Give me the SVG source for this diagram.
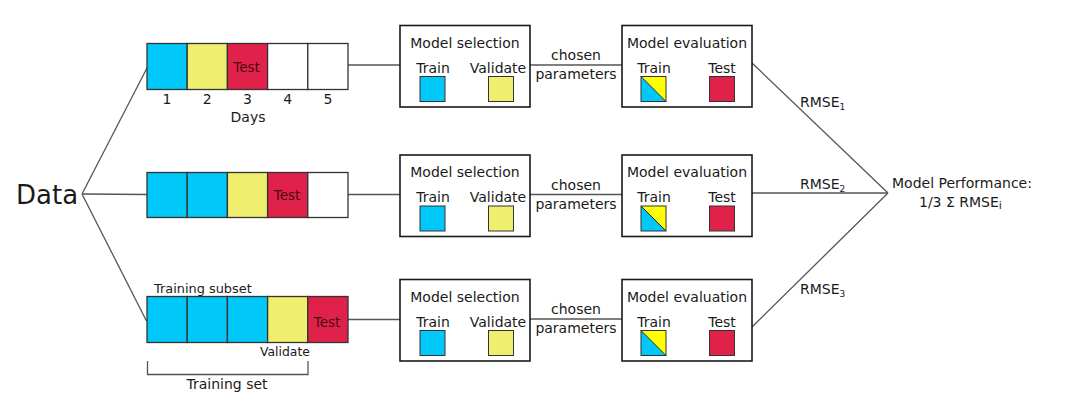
<svg xmlns="http://www.w3.org/2000/svg" width="1071" height="410" viewBox="0 0 1071 410">
<defs>
<style>
text{font-family:"DejaVu Sans","Liberation Sans",sans-serif;fill:#1a1a1a;font-size:14px}
.m{text-anchor:middle}
.cell{stroke:#333;stroke-width:1.3}
.b{fill:#00c8f8}.y{fill:#f0ee6e}.r{fill:#e0224a}.w{fill:#fff}
.box{fill:#fff;stroke:#1a1a1a;stroke-width:1.6}
.sq{stroke:#333;stroke-width:1}
.ln{stroke:#555;stroke-width:1.3;fill:none}
.tt{fill:#4a0a14;font-size:13.5px}
.sub{font-size:9px}
</style>
<g id="modelpair">
<rect class="box" x="400" y="0" width="130" height="81.5"/>
<text class="m" x="465" y="22">Model selection</text>
<text class="m" x="433" y="47">Train</text>
<text class="m" x="498" y="47">Validate</text>
<rect class="sq b" x="420" y="51" width="25" height="25"/>
<rect class="sq y" x="488.5" y="51" width="25" height="25"/>
<text class="m" x="576" y="34.5">chosen</text>
<text class="m" x="576" y="53.5">parameters</text>
<rect class="box" x="622" y="0" width="130" height="81.5"/>
<text class="m" x="687" y="22">Model evaluation</text>
<text class="m" x="654" y="47">Train</text>
<text class="m" x="722" y="47">Test</text>
<polygon points="641,51 666,76 641,76" fill="#00c8f8"/>
<polygon points="641,51 666,51 666,76" fill="#ffff00"/>
<line x1="641" y1="51" x2="666" y2="76" stroke="#222" stroke-width="1"/>
<rect class="sq" x="641" y="51" width="25" height="25" fill="none"/>
<rect class="sq r" x="709.5" y="51" width="25" height="25"/>
</g>
</defs>

<g id="connectors">
<line class="ln" x1="82" y1="194" x2="147" y2="68"/>
<line class="ln" x1="82" y1="194" x2="147" y2="194.5"/>
<line class="ln" x1="82" y1="194" x2="146.5" y2="321"/>
<line class="ln" x1="348" y1="65" x2="400" y2="65"/>
<line class="ln" x1="348" y1="194.5" x2="400" y2="194.5"/>
<line class="ln" x1="348" y1="319.5" x2="400" y2="319.5"/>
<line class="ln" x1="530" y1="65" x2="622" y2="65"/>
<line class="ln" x1="530" y1="194.5" x2="622" y2="194.5"/>
<line class="ln" x1="530" y1="319" x2="622" y2="319"/>
<line class="ln" x1="752" y1="63" x2="888" y2="193"/>
<line class="ln" x1="752" y1="193" x2="888" y2="193"/>
<line class="ln" x1="752" y1="327" x2="888" y2="193"/>
<path class="ln" d="M147.5 361 V374.5 H308 V361"/>
</g>

<g id="data">
<text x="16" y="204" style="font-size:26px">Data</text>
</g>

<g id="split1">
<rect class="cell b" x="147" y="43.5" width="40.2" height="46"/>
<rect class="cell y" x="187.2" y="43.5" width="40.2" height="46"/>
<rect class="cell r" x="227.4" y="43.5" width="40.2" height="46"/>
<rect class="cell w" x="267.6" y="43.5" width="40.2" height="46"/>
<rect class="cell w" x="307.8" y="43.5" width="40.2" height="46"/>
<text class="m tt" x="246.5" y="71.5">Test</text>
<text class="m" x="167" y="104">1</text>
<text class="m" x="207.3" y="104">2</text>
<text class="m" x="247.5" y="104">3</text>
<text class="m" x="287.7" y="104">4</text>
<text class="m" x="328" y="104">5</text>
<text class="m" x="248" y="122">Days</text>
</g>

<g id="split2">
<rect class="cell b" x="147" y="172.5" width="40.2" height="45"/>
<rect class="cell b" x="187.2" y="172.5" width="40.2" height="45"/>
<rect class="cell y" x="227.4" y="172.5" width="40.2" height="45"/>
<rect class="cell r" x="267.6" y="172.5" width="40.2" height="45"/>
<rect class="cell w" x="307.8" y="172.5" width="40.2" height="45"/>
<text class="m tt" x="287" y="200">Test</text>
</g>

<g id="split3">
<rect class="cell b" x="147" y="296.5" width="40.2" height="46"/>
<rect class="cell b" x="187.2" y="296.5" width="40.2" height="46"/>
<rect class="cell b" x="227.4" y="296.5" width="40.2" height="46"/>
<rect class="cell y" x="267.6" y="296.5" width="40.2" height="46"/>
<rect class="cell r" x="307.8" y="296.5" width="40.2" height="46"/>
<text class="m tt" x="327" y="326.5">Test</text>
<text x="154" y="292.5" style="font-size:12.9px">Training subset</text>
<text x="260" y="356" style="font-size:12.4px">Validate</text>
<text class="m" x="227" y="389">Training set</text>
</g>

<g id="models1" transform="translate(0,25.5)"><use href="#modelpair"/></g>
<g id="models2" transform="translate(0,155)"><use href="#modelpair"/></g>
<g id="models3" transform="translate(0,279.5)"><use href="#modelpair"/></g>

<g id="rmse">
<text x="800" y="107">RMSE<tspan class="sub" dy="3">1</tspan></text>
<text x="800" y="189">RMSE<tspan class="sub" dy="3">2</tspan></text>
<text x="800" y="294">RMSE<tspan class="sub" dy="3">3</tspan></text>
</g>

<g id="performance">
<text x="892" y="188">Model Performance:</text>
<text x="919" y="207">1/3 Σ RMSE<tspan style="font-size:11px" dy="2">i</tspan></text>
</g>
</svg>
